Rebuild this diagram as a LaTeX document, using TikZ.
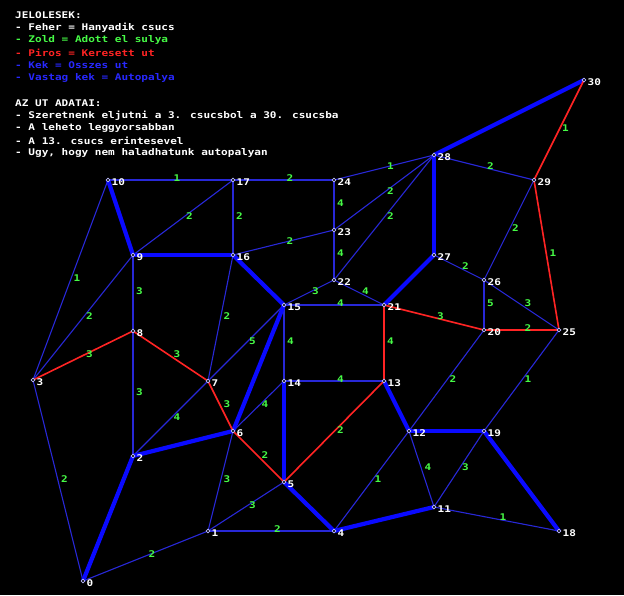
\documentclass[tikz,border=0pt]{standalone}
\usepackage{fontspec}
\newfontfamily\pix[FakeStretch=1.2]{DejaVu Sans Mono}
\definecolor{lgreen}{RGB}{70,250,70}
\definecolor{lred}{RGB}{255,36,36}
\definecolor{lblue}{RGB}{40,40,255}
\definecolor{thinblue}{RGB}{40,40,215}
\definecolor{thickblue}{RGB}{10,10,255}
\definecolor{markc}{RGB}{190,190,255}
\tikzset{
  txt/.style={font=\pix\bfseries\fontsize{9.2}{11}\selectfont, inner sep=0pt, anchor=west},
  thinedge/.style={draw=thinblue, line width=1.1pt},
  thickedge/.style={draw=thickblue, line width=4.2pt},
  rededge/.style={draw=lred, line width=1.6pt},
  wlab/.style={font=\pix\bfseries\fontsize{9.2}{11}\selectfont, text=lgreen, inner sep=0pt, xshift=6.5pt, yshift=1.5pt},
  vmark/.style={circle, draw=markc, line width=0.7pt, fill=black, minimum size=3.6pt, inner sep=0pt},
  vnum/.style={font=\pix\bfseries\fontsize{9.2}{11}\selectfont, text=white, inner sep=0pt, anchor=west}
}
\begin{document}
\begin{tikzpicture}[x=1pt,y=-1pt]
\fill[black] (0,0) rectangle (624,595);
\useasboundingbox (0,0) rectangle (624,595);
% legend
\node[txt,text=white] (l1) at (15,15) {JELOLESEK:};
\node[txt,text=white] (l2) at (15,28) {- Feher = Hanyadik csucs};
\node[txt,text=lgreen] (l3) at (15,40) {- Zold = Adott el sulya};
\node[txt,text=lred] (l4) at (15,53) {- Piros = Keresett ut};
\node[txt,text=lblue] (l5) at (15,65) {- Kek = Osszes ut};
\node[txt,text=lblue] (l6) at (15,78) {- Vastag kek = Autopalya};
\node[txt,text=white] (a1) at (15,103) {AZ UT ADATAI:};
\node[txt,text=white] (a2) at (15,115.5) {- Szeretnenk eljutni a 3. csucsbol a 30. csucsba};
\node[txt,text=white] (a3) at (15,128) {- A leheto leggyorsabban};
\node[txt,text=white] (a4) at (15,140.5) {- A 13. csucs erintesevel};
\node[txt,text=white] (a5) at (15,153) {- Ugy, hogy nem haladhatunk autopalyan};
% vertices
\foreach \n/\x/\y in {0/83/581,1/208/531,2/133/456,3/33/380,4/334/531,5/284/482,6/233/431,7/208/381,
  8/133/331,9/133/255,10/108/180,11/434/507,12/409/431,13/384/381,14/284/381,15/284/305,
  16/233/255,17/233/180,18/559/531,19/484/431,20/484/330,21/384/305,22/334/280,23/334/230,
  24/334/180,25/559/330,26/484/280,27/434/255,28/434/155,29/534/180,30/584/80}
  {\coordinate (v\n) at (\x,\y);}
% thin edges
\foreach \a/\b in {3/10,3/9,3/0,9/17,9/8,8/2,10/17,17/16,17/24,16/7,16/23,24/23,24/28,23/22,23/28,
  22/28,22/15,22/21,15/21,15/14,15/7,7/2,6/14,6/1,1/5,1/4,0/1,14/13,28/29,29/26,27/26,26/20,
  26/25,20/12,25/19,12/11,19/11,11/18,4/12}
  {\draw[thinedge] (v\a) -- (v\b);}
% thick edges
\foreach \a/\b in {10/9,9/16,16/15,15/6,14/5,0/2,2/6,5/4,4/11,13/12,12/19,19/18,21/27,27/28,28/30}
  {\draw[thickedge] (v\a) -- (v\b);}
% red path
\foreach \a/\b in {3/8,8/7,7/6,6/5,5/13,13/21,21/20,20/25,25/29,29/30}
  {\draw[rededge] (v\a) -- (v\b);}
% weights
\foreach \a/\b/\w in {3/10/1,3/9/2,3/0/2,9/17/2,9/8/3,8/2/3,10/17/1,17/16/2,17/24/2,16/7/2,16/23/2,
  24/23/4,24/28/1,23/22/4,23/28/2,22/28/2,22/15/3,22/21/4,15/21/4,15/14/4,15/7/5,7/2/4,6/14/4,
  6/1/3,1/5/3,1/4/2,0/1/2,14/13/4,28/29/2,29/26/2,27/26/2,26/20/5,26/25/3,20/12/2,25/19/1,
  12/11/4,19/11/3,11/18/1,4/12/1,3/8/3,8/7/3,7/6/3,6/5/2,5/13/2,13/21/4,21/20/3,20/25/2,25/29/1,29/30/1}
  {\path (v\a) -- (v\b) node[midway,wlab] (w\a-\b) {\w};}
% markers and numbers
\foreach \n in {0,...,30}
  {\node[vmark] (m\n) at (v\n) {};
   \node[vnum] (t\n) at ([xshift=3.5pt,yshift=-2.5pt]v\n) {\n};}
\end{tikzpicture}
\end{document}
